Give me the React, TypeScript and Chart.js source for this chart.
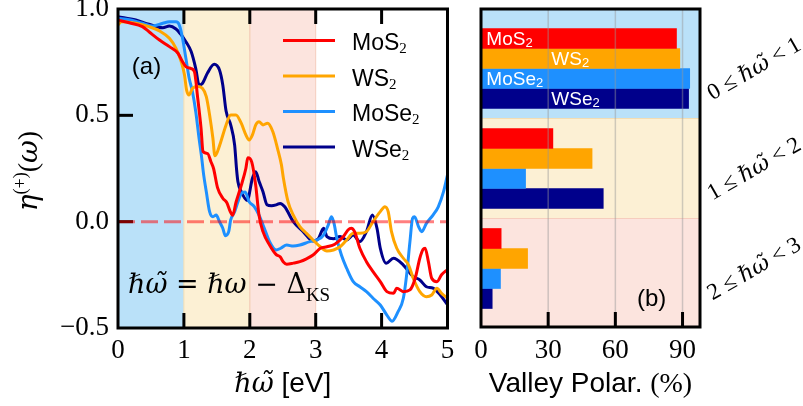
import React, { useEffect, useRef } from 'react';
import { Chart, registerables } from 'chart.js';

Chart.register(...registerables);

const SANS = "'Liberation Sans', Arial, sans-serif";
const SERIF = "'Liberation Serif', 'DejaVu Serif', serif";
const MATH = "'DejaVu Serif', 'Liberation Serif', serif";

const materials = ['MoS2', 'WS2', 'MoSe2', 'WSe2'];
const seriesColors = ['#ff0000', '#ffa500', '#1e90ff', '#00008b'];

// ---- Panel (a): eta^(+)(omega) vs energy ----
const mos2X = [0,0.17,0.37,0.47,0.63,0.78,0.91,0.98,1.03,1.11,1.16,1.21,1.26,1.29,1.36,1.41,1.45,1.51,1.59,1.65,1.70,1.74,1.79,1.87,1.94,1.97,2.03,2.09,2.14,2.20,2.30,2.40,2.46,2.51,2.56,2.66,2.76,2.86,2.96,3.07,3.17,3.29,3.42,3.49,3.54,3.59,3.67,3.77,3.87,3.98,4.08,4.18,4.23,4.33,4.43,4.51,4.58,4.63,4.66,4.71,4.76,4.84,4.91,5.0];
const mos2Y = [0.948,0.935,0.917,0.893,0.854,0.823,0.792,0.752,0.729,0.72,0.705,0.58,0.44,0.33,0.32,0.282,0.25,0.16,0.11,0.09,0.05,0.03,0.09,0.17,0.25,0.30,0.28,0.17,0.03,-0.047,-0.11,-0.155,-0.165,-0.19,-0.2,-0.195,-0.188,-0.175,-0.157,-0.125,-0.118,-0.106,-0.07,-0.039,-0.031,-0.047,-0.125,-0.188,-0.235,-0.282,-0.329,-0.337,-0.313,-0.329,-0.321,-0.266,-0.172,-0.13,-0.125,-0.188,-0.266,-0.282,-0.25,-0.225];

const ws2X = [0,0.05,0.27,0.47,0.63,0.78,0.88,0.96,1.01,1.04,1.08,1.13,1.21,1.28,1.34,1.39,1.44,1.47,1.51,1.56,1.64,1.71,1.79,1.87,1.94,1.99,2.04,2.09,2.14,2.20,2.27,2.35,2.42,2.48,2.51,2.58,2.66,2.76,2.86,2.96,3.07,3.17,3.27,3.37,3.47,3.57,3.67,3.77,3.87,3.98,4.05,4.10,4.15,4.23,4.33,4.41,4.48,4.58,4.68,4.76,4.84,4.91,5.0];
const ws2Y = [0.925,0.94,0.933,0.917,0.897,0.862,0.815,0.752,0.689,0.62,0.596,0.627,0.635,0.627,0.588,0.502,0.392,0.31,0.33,0.376,0.455,0.502,0.502,0.463,0.408,0.384,0.408,0.455,0.47,0.455,0.463,0.423,0.345,0.267,0.204,0.094,0.031,-0.023,-0.055,-0.086,-0.118,-0.138,-0.133,-0.118,-0.086,-0.055,-0.055,-0.047,0.0,0.047,0.07,0.047,-0.047,-0.125,-0.172,-0.204,-0.266,-0.329,-0.353,-0.345,-0.313,-0.337,-0.36];

const mose2X = [0,0.17,0.37,0.53,0.68,0.78,0.88,0.93,0.98,1.03,1.08,1.13,1.18,1.23,1.27,1.30,1.34,1.39,1.44,1.49,1.54,1.59,1.63,1.68,1.71,1.77,1.82,1.87,1.93,1.99,2.07,2.14,2.22,2.30,2.40,2.47,2.56,2.66,2.76,2.91,3.02,3.12,3.19,3.24,3.28,3.32,3.39,3.47,3.57,3.67,3.77,3.87,3.98,4.08,4.16,4.25,4.33,4.38,4.43,4.47,4.50,4.56,4.61,4.68,4.78,4.86,4.94,5.0];
const mose2Y = [0.956,0.95,0.933,0.92,0.933,0.94,0.94,0.925,0.862,0.768,0.674,0.611,0.517,0.392,0.30,0.22,0.141,0.047,0.023,0.031,0.0,-0.031,-0.066,-0.047,0.008,0.047,0.094,0.133,0.14,0.094,0.07,0.031,-0.031,-0.094,-0.133,-0.125,-0.11,-0.115,-0.11,-0.094,-0.086,-0.063,-0.016,0.023,-0.01,-0.078,-0.157,-0.219,-0.282,-0.306,-0.329,-0.36,-0.392,-0.439,-0.468,-0.423,-0.36,-0.25,-0.094,0.016,0.023,-0.023,-0.047,-0.008,0.031,0.07,0.141,0.22];

const wse2X = [0,0.27,0.47,0.68,0.78,0.88,0.96,1.03,1.11,1.18,1.23,1.28,1.36,1.46,1.54,1.59,1.64,1.71,1.77,1.80,1.82,1.87,1.96,2.04,2.09,2.14,2.20,2.26,2.33,2.40,2.46,2.53,2.66,2.81,2.96,3.04,3.12,3.17,3.27,3.37,3.47,3.57,3.67,3.77,3.86,3.93,3.98,4.07,4.18,4.33,4.48,4.58,4.68,4.78,4.89,5.0];
const wse2Y = [0.964,0.948,0.928,0.912,0.92,0.906,0.878,0.846,0.80,0.72,0.643,0.65,0.70,0.74,0.713,0.643,0.52,0.455,0.36,0.243,0.188,0.141,0.10,0.204,0.235,0.19,0.141,0.08,0.075,0.079,0.086,0.07,0.0,-0.047,-0.091,-0.08,-0.031,-0.07,-0.08,-0.07,-0.086,-0.063,-0.094,-0.047,0.031,-0.031,-0.125,-0.196,-0.172,-0.204,-0.259,-0.274,-0.306,-0.313,-0.345,-0.39];

const seriesX = [mos2X, ws2X, mose2X, wse2X];
const seriesY = [mos2Y, ws2Y, mose2Y, wse2Y];

const energyBands = [[0, 1], [1, 2], [2, 3]];
const bandFill = ['rgb(186,225,249)', 'rgb(252,240,212)', 'rgb(252,228,222)'];
const bandEdge = ['rgb(170,215,245)', 'rgb(244,221,178)', 'rgb(246,205,190)'];

// ---- Panel (b): valley polarization ----
const groupIndex = [0, 1, 2];
const rangeLow = ['0', '1', '2'];
const rangeHigh = ['1', '2', '3'];
const polMoS2 = [87.3, 32.1, 9.0];
const polWS2 = [88.8, 49.6, 20.8];
const polMoSe2 = [93.2, 19.9, 8.7];
const polWSe2 = [92.7, 54.6, 5.0];
const polSeries = [polMoS2, polWS2, polMoSe2, polWSe2];

type Part = { t: string; f: string; dy?: number };
function richWidth(ctx: CanvasRenderingContext2D, parts: Part[]) {
  let w = 0;
  for (const p of parts) { ctx.font = p.f; w += ctx.measureText(p.t).width; }
  return w;
}
function drawRich(ctx: CanvasRenderingContext2D, parts: Part[], x: number, y: number) {
  let cx = x;
  ctx.textAlign = 'left';
  ctx.textBaseline = 'alphabetic';
  for (const p of parts) {
    ctx.font = p.f;
    ctx.fillText(p.t, cx, y + (p.dy || 0));
    cx += ctx.measureText(p.t).width;
  }
}
function seg(ctx: CanvasRenderingContext2D, x1: number, y1: number, x2: number, y2: number) {
  ctx.beginPath(); ctx.moveTo(x1, y1); ctx.lineTo(x2, y2); ctx.stroke();
}

const fixBox = (w: number | null, h: number | null) => (scale: any) => {
  if (w !== null) scale.width = w;
  if (h !== null) scale.height = h;
  scale.paddingLeft = 0; scale.paddingRight = 0; scale.paddingTop = 0; scale.paddingBottom = 0;
};

const leftDecor = {
  id: 'leftDecor',
  beforeDatasetsDraw(chart: any) {
    const { ctx, chartArea: a, scales: { x } } = chart;
    ctx.save();
    energyBands.forEach((b, i) => {
      const x0 = x.getPixelForValue(b[0]);
      const x1 = x.getPixelForValue(b[1]);
      ctx.fillStyle = bandFill[i];
      ctx.fillRect(x0, a.top, x1 - x0, a.bottom - a.top);
    });
    energyBands.forEach((b, i) => {
      if (i === 0) return;
      ctx.strokeStyle = bandEdge[i];
      ctx.lineWidth = 1;
      seg(ctx, x.getPixelForValue(b[0]), a.top, x.getPixelForValue(b[0]), a.bottom);
      seg(ctx, x.getPixelForValue(b[1]), a.top, x.getPixelForValue(b[1]), a.bottom);
    });
    ctx.restore();
  },
  afterDatasetsDraw(chart: any) {
    const { ctx, chartArea: a, scales: { x, y } } = chart;
    ctx.save();
    // inward ticks
    ctx.strokeStyle = '#000';
    ctx.lineWidth = 3;
    [1, 2, 3, 4].forEach((v) => {
      const px = x.getPixelForValue(v);
      seg(ctx, px, a.top, px, a.top + 15);
      seg(ctx, px, a.bottom, px, a.bottom - 15);
    });
    [0, 0.5].forEach((v) => {
      const py = y.getPixelForValue(v);
      seg(ctx, a.left, py, a.left + 15, py);
    });
    // dashed zero line
    ctx.save();
    ctx.beginPath();
    ctx.rect(a.left, a.top, a.right - a.left, a.bottom - a.top);
    ctx.clip();
    ctx.setLineDash([17, 6]);
    ctx.strokeStyle = 'rgba(255,0,0,0.5)';
    ctx.lineWidth = 3;
    const y0 = y.getPixelForValue(0);
    seg(ctx, a.left, y0, a.right, y0);
    ctx.restore();
    // frame
    ctx.strokeStyle = '#000';
    ctx.lineWidth = 3;
    ctx.strokeRect(a.left, a.top, a.right - a.left, a.bottom - a.top);

    // legend
    ctx.fillStyle = '#000';
    const rowY = [40.5, 76, 111.5, 147];
    materials.forEach((m, i) => {
      ctx.strokeStyle = seriesColors[i];
      ctx.lineWidth = 3;
      seg(ctx, 283, rowY[i], 335, rowY[i]);
      drawRich(ctx, [
        { t: m.slice(0, -1), f: `23px ${SANS}` },
        { t: m.slice(-1), f: `15px ${SERIF}`, dy: 3 },
      ], 352, rowY[i] + 9.5);
    });

    // (a)
    ctx.font = `24px ${SANS}`;
    ctx.textAlign = 'center';
    ctx.textBaseline = 'middle';
    ctx.fillText('(a)', 146.5, 67);

    // formula
    drawRich(ctx, [
      { t: 'ℏω̃', f: `italic 27px ${MATH}` },
      { t: ' = ', f: `27px ${MATH}` },
      { t: 'ℏω', f: `italic 27px ${MATH}` },
      { t: ' − Δ', f: `27px ${MATH}` },
      { t: 'KS', f: `19px ${SERIF}`, dy: 8 },
    ], 128, 293);

    // y title
    ctx.save();
    ctx.translate(37, 171);
    ctx.rotate(-Math.PI / 2);
    const yt: Part[] = [
      { t: 'η', f: `italic 28px ${MATH}` },
      { t: '(+)', f: `18px ${SERIF}`, dy: -11 },
      { t: '(', f: `28px ${SERIF}` },
      { t: 'ω', f: `italic 28px ${MATH}` },
      { t: ')', f: `28px ${SERIF}` },
    ];
    drawRich(ctx, yt, -richWidth(ctx, yt) / 2, 0);
    ctx.restore();

    // x title
    const xt: Part[] = [
      { t: 'ℏω̃', f: `italic 27px ${MATH}` },
      { t: ' [eV]', f: `28px ${SANS}` },
    ];
    drawRich(ctx, xt, (a.left + a.right) / 2 - richWidth(ctx, xt) / 2, 392);
    ctx.restore();
  },
};

const rightDecor = {
  id: 'rightDecor',
  beforeDatasetsDraw(chart: any) {
    const { ctx, chartArea: a, scales: { y } } = chart;
    ctx.save();
    const edges = [a.top, y.getPixelForValue(0.5), y.getPixelForValue(1.5), a.bottom];
    groupIndex.forEach((g, i) => {
      ctx.fillStyle = bandFill[i];
      ctx.fillRect(a.left, edges[i], a.right - a.left, edges[i + 1] - edges[i]);
    });
    ctx.lineWidth = 1;
    ctx.strokeStyle = bandEdge[1];
    seg(ctx, a.left, edges[1], a.right, edges[1]);
    ctx.strokeStyle = bandEdge[2];
    seg(ctx, a.left, edges[2], a.right, edges[2]);
    ctx.restore();
  },
  afterDatasetsDraw(chart: any) {
    const { ctx, chartArea: a, scales: { x, y } } = chart;
    ctx.save();
    // grid lines
    ctx.strokeStyle = 'rgba(150,150,150,0.45)';
    ctx.lineWidth = 1.5;
    [30, 60, 90].forEach((v) => {
      const px = x.getPixelForValue(v);
      seg(ctx, px, a.top, px, a.bottom);
    });
    // ticks
    ctx.strokeStyle = '#000';
    ctx.lineWidth = 3;
    [30, 60, 90].forEach((v) => {
      const px = x.getPixelForValue(v);
      seg(ctx, px, a.bottom, px, a.bottom - 15);
    });
    ctx.strokeRect(a.left, a.top, a.right - a.left, a.bottom - a.top);

    // bar labels in the first group
    const labelAt = [1.5, 30.5, 1.5, 30.5];
    const gc = y.getPixelForValue(groupIndex[0]);
    ctx.fillStyle = '#fff';
    materials.forEach((m, i) => {
      const cy = gc - 30 + 20 * i;
      drawRich(ctx, [
        { t: m.slice(0, -1), f: `19px ${SANS}` },
        { t: m.slice(-1), f: `13px ${SANS}`, dy: 2 },
      ], x.getPixelForValue(labelAt[i]) + 2, cy + 6.5);
    });

    // (b)
    ctx.fillStyle = '#000';
    ctx.font = `24px ${SANS}`;
    ctx.textAlign = 'center';
    ctx.textBaseline = 'middle';
    ctx.fillText('(b)', 651.7 - 460, 299);

    // rotated range labels
    groupIndex.forEach((g, i) => {
      const cy = y.getPixelForValue(g);
      const parts: Part[] = [
        { t: `${rangeLow[i]} ≤ `, f: `23px ${SERIF}` },
        { t: 'ℏω̃', f: `italic 22px ${MATH}` },
        { t: ` < ${rangeHigh[i]}`, f: `23px ${SERIF}` },
      ];
      ctx.save();
      ctx.translate(754 - 460, cy);
      ctx.rotate(-Math.PI / 6);
      drawRich(ctx, parts, -richWidth(ctx, parts) / 2, 7);
      ctx.restore();
    });

    // x title
    const xt: Part[] = [
      { t: 'Valley Polar. ', f: `28px ${SANS}` },
      { t: '(%)', f: `28px ${SERIF}` },
    ];
    drawRich(ctx, xt, (a.left + a.right) / 2 - richWidth(ctx, xt) / 2, 392);
    ctx.restore();
  },
};

export default function App() {
  const leftRef = useRef<HTMLCanvasElement>(null);
  const rightRef = useRef<HTMLCanvasElement>(null);

  useEffect(() => {
    const tickFont = { family: SERIF, size: 27 };
    const left = new Chart(leftRef.current as HTMLCanvasElement, {
      type: 'line',
      data: {
        datasets: materials.map((m, i) => ({
          label: m,
          data: seriesX[i].map((xv, k) => ({ x: xv, y: seriesY[i][k] })),
          borderColor: seriesColors[i],
          backgroundColor: seriesColors[i],
          borderWidth: 3,
          pointRadius: 0,
          cubicInterpolationMode: 'monotone' as const,
          fill: false,
        })),
      },
      options: {
        responsive: false,
        animation: false,
        devicePixelRatio: 1,
        layout: { padding: { left: 0, right: 12.5, top: 9, bottom: 0 } },
        plugins: { legend: { display: false }, tooltip: { enabled: false } },
        scales: {
          x: {
            type: 'linear',
            min: 0,
            max: 5,
            grid: { display: false, drawTicks: false },
            border: { display: false },
            ticks: { stepSize: 1, includeBounds: false, font: tickFont, color: '#000', padding: 7, maxRotation: 0 },
            afterFit: fixBox(null, 78),
          },
          y: {
            type: 'linear',
            min: -0.5,
            max: 1,
            grid: { display: false, drawTicks: false },
            border: { display: false },
            ticks: {
              stepSize: 0.5,
              includeBounds: false,
              font: tickFont,
              color: '#000',
              padding: 9,
              callback: (v: any) => (v < 0 ? '−' : '') + Math.abs(Number(v)).toFixed(1),
            },
            afterFit: fixBox(118, null),
          },
        },
      } as any,
      plugins: [leftDecor],
    });

    const right = new Chart(rightRef.current as HTMLCanvasElement, {
      type: 'bar',
      data: {
        datasets: materials.map((m, i) => ({
          label: m,
          data: polSeries[i].map((v, k) => ({ x: v, y: groupIndex[k] })),
          backgroundColor: seriesColors[i],
          borderWidth: 0,
          barThickness: 20,
        })),
      },
      options: {
        indexAxis: 'y',
        responsive: false,
        animation: false,
        devicePixelRatio: 1,
        layout: { padding: { left: 21, right: 103, top: 9, bottom: 0 } },
        plugins: { legend: { display: false }, tooltip: { enabled: false } },
        scales: {
          x: {
            type: 'linear',
            min: 0,
            max: 97.8,
            offset: false,
            grid: { display: false, drawTicks: false },
            border: { display: false },
            ticks: { stepSize: 30, includeBounds: false, font: tickFont, color: '#000', padding: 8, maxRotation: 0 },
            afterFit: fixBox(null, 79),
          },
          y: {
            type: 'linear',
            display: false,
            offset: false,
            reverse: true,
            min: -0.595,
            max: 2.585,
          },
        },
      } as any,
      plugins: [rightDecor],
    });

    return () => {
      left.destroy();
      right.destroy();
    };
  }, []);

  return (
    <div style={{ position: 'absolute', left: 0, top: 0, width: 803, height: 406, background: '#fff' }}>
      <canvas ref={leftRef} width={460} height={406} style={{ position: 'absolute', left: 0, top: 0 }} />
      <canvas ref={rightRef} width={343} height={406} style={{ position: 'absolute', left: 460, top: 0 }} />
    </div>
  );
}
